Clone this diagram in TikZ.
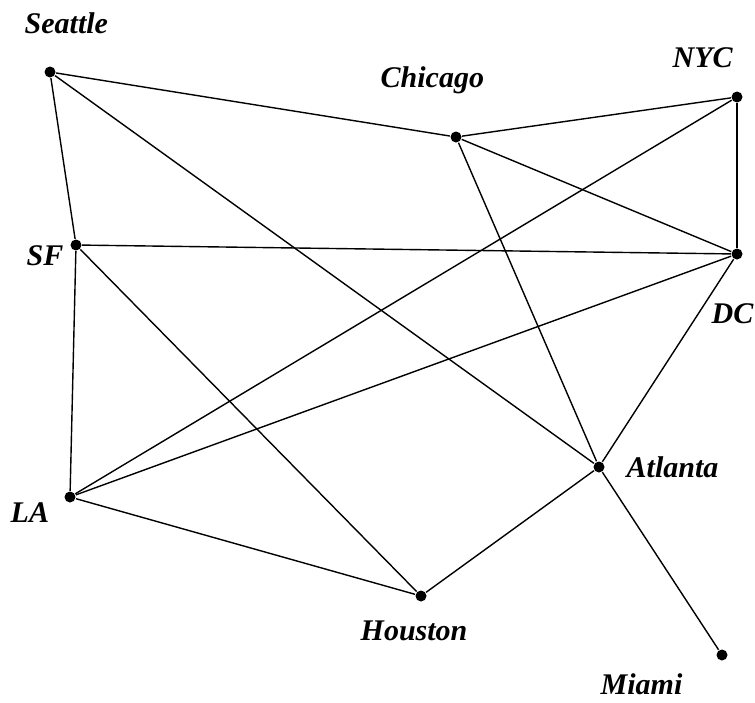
\documentclass[tikz,border=0pt]{standalone}
\usepackage{fontspec}
\setmainfont{Liberation Serif}
\begin{document}
\begin{tikzpicture}[x=1pt,y=-1pt,line width=1.4pt]
\tikzset{city/.style={circle,fill=black,inner sep=0pt,minimum size=11pt},
citytext/.style={anchor=base west,inner sep=0pt,font=\fontsize{30}{34}\selectfont\bfseries\itshape}}
\useasboundingbox (0,0) rectangle (755,702);
\node (sea) at (50,72)[city]{};
\node (chi) at (456,137)[city]{};
\node (nyc) at (737,97)[city]{};
\node (sf) at (76,245)[city]{};
\node (dc) at (737,254)[city]{};
\node (la) at (70,497)[city]{};
\node (atl) at (599,467)[city]{};
\node (hou) at (421,596)[city]{};
\node (mia) at (722,655)[city]{};

\node (tsea) at (24,33)[citytext]{Seattle};
\node (tchi) at (380,87)[citytext]{Chicago};
\node (tnyc) at (672,67)[citytext]{NYC};
\node (tsf) at (26,265)[citytext]{SF};
\node (tdc) at (711,323)[citytext]{DC};
\node (tla) at (10,522)[citytext]{LA};
\node (tatl) at (626,477)[citytext]{Atlanta};
\node (thou) at (360,640)[citytext]{Houston};
\node (tmia) at (600,694)[citytext]{Miami};

\draw(sea)--(chi);
\draw(sea)--(sf);
\draw(sea)--(atl);
\draw(chi)--(nyc);
\draw(chi)--(dc);
\draw(chi)--(atl);
\draw(nyc)--(dc);
\draw(nyc)--(la);
\draw(sf)--(dc);
\draw(sf)--(la);
\draw(sf)--(hou);
\draw(dc)--(la);
\draw(dc)--(atl);
\draw(la)--(hou);
\draw(hou)--(atl);
\draw(atl)--(mia);
\end{tikzpicture}
\end{document}
